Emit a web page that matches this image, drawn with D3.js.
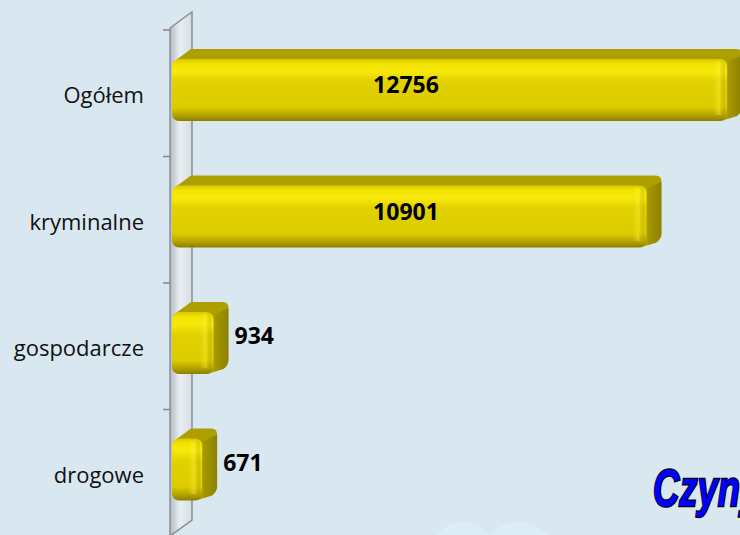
<!DOCTYPE html>
<html>
<head>
<meta charset="utf-8">
<script src="https://cdn.jsdelivr.net/npm/d3@7"></script>
<style>
  html, body { margin: 0; padding: 0; background: #d9e8f0; }
  svg { display: block; }
</style>
</head>
<body>
<div id="chart"></div>
<script>
const categories = ["Ogółem", "kryminalne", "gospodarcze", "drogowe"];
const values = [12756, 10901, 934, 671];
const xMax = 14000;
const title = "Czyny stwierdzone";

let width = 740,
    height = 535,
    margin = ({ top: 30, left: 173 }),
    depth = ({ dx: 15, dy: -10 }),
    wallDepth = ({ dx: 22, dy: -16 }),
    plotRight = 640;

const svg = d3.select("#chart")
  .append("svg")
  .attr("width", width)
  .attr("height", height)
  .attr("viewBox", [0, 0, width, height]);

const defs = svg.append("defs");

let front = defs.append("linearGradient")
  .attr("id", "front").attr("x1", 0).attr("x2", 0).attr("y1", 0).attr("y2", 1);
[[0, "#d8c800"], [0.08, "#f3e300"], [0.2, "#f7e90c"], [0.35, "#e3d200"],
 [0.78, "#dccb00"], [0.9, "#b5a500"], [1, "#8d7f00"]]
  .forEach(s => front.append("stop").attr("offset", s[0]).attr("stop-color", s[1]));

let side = defs.append("linearGradient")
  .attr("id", "side").attr("x1", 0).attr("x2", 1).attr("y1", 0).attr("y2", 0);
[[0, "#c8b800"], [0.4, "#a39500"], [1, "#8e8100"]]
  .forEach(s => side.append("stop").attr("offset", s[0]).attr("stop-color", s[1]));

let endShade = defs.append("linearGradient")
  .attr("id", "endShade").attr("x1", 0).attr("x2", 1).attr("y1", 0).attr("y2", 0);
[[0, "rgba(255,250,60,0)"], [0.5, "rgba(255,250,60,0.35)"], [1, "rgba(120,100,0,0.15)"]]
  .forEach(s => endShade.append("stop").attr("offset", s[0]).attr("stop-color", s[1]));

let wallGrad = defs.append("linearGradient")
  .attr("id", "wall").attr("x1", 0).attr("x2", 1).attr("y1", 0).attr("y2", 0);
[[0, "#b3bbc2"], [0.45, "#e9eef1"], [1, "#d6dde2"]]
  .forEach(s => wallGrad.append("stop").attr("offset", s[0]).attr("stop-color", s[1]));

// faint background shapes
svg.append("circle").attr("cx", 463).attr("cy", 555).attr("r", 33).attr("fill", "#dbedf5");
svg.append("circle").attr("cx", 519).attr("cy", 560).attr("r", 38).attr("fill", "#dbedf5");

let y = d3.scaleBand()
  .domain(categories)
  .range([margin.top, 536]);

let x = d3.scaleLinear()
  .domain([0, xMax])
  .range([margin.left, margin.left + xMax * 0.04344]);

// side wall
let wx = 170, wTop = y.range()[0] - 2, wBot = y.range()[1];
svg.append("path")
  .attr("d", `M${wx},${wTop} L${wx + wallDepth.dx},${wTop + wallDepth.dy} L${wx + wallDepth.dx},${wBot + wallDepth.dy} L${wx},${wBot} Z`)
  .attr("fill", "url(#wall)")
  .attr("stroke", "#8c8f92")
  .attr("stroke-width", 1.5);

// ticks
let ticks = categories.map(c => y(c)).concat([y.range()[1]]);
svg.append("g")
  .selectAll("line")
  .data(ticks)
  .join("line")
  .attr("x1", wx - 7).attr("x2", wx)
  .attr("y1", d => d).attr("y2", d => d)
  .attr("stroke", "#858585")
  .attr("stroke-width", 1.5);

// category labels
svg.append("g")
  .selectAll("text")
  .data(categories)
  .join("text")
  .attr("x", 144)
  .attr("y", d => y(d) + y.bandwidth() / 2 + 4)
  .attr("text-anchor", "end")
  .attr("dominant-baseline", "middle")
  .attr("font-family", "Open Sans, sans-serif")
  .attr("font-size", 22)
  .attr("fill", "#111")
  .text(d => d);

// bars
const barOffset = 29, barH = 62;

categories.forEach((c, i) => {
  let v = values[i];
  let x0 = x(0) - 1, x1 = x(v);
  let top = y(c) + barOffset, bot = top + barH;
  let g = svg.append("g");

  g.append("path")
    .attr("d", `M${x0 + 4},${top + 1} L${x0 + 4 + depth.dx},${top + depth.dy} L${x1 + depth.dx - 6},${top + depth.dy} Q${x1 + depth.dx},${top + depth.dy} ${x1 + depth.dx},${top + depth.dy + 6} L${x1},${top + 6} Z`)
    .attr("fill", "#ad9f00");

  g.append("path")
    .attr("d", `M${x1 - 2},${top + 4} L${x1 + depth.dx},${top + depth.dy + 6} L${x1 + depth.dx},${bot + depth.dy - 4} Q${x1 + depth.dx},${bot + depth.dy + 1} ${x1 + depth.dx - 5},${bot - 5} L${x1 - 6},${bot} Z`)
    .attr("fill", "url(#side)");

  g.append("rect")
    .attr("x", x0).attr("y", top)
    .attr("width", x1 - x0).attr("height", barH)
    .attr("rx", 7)
    .attr("fill", "url(#front)");

  g.append("rect")
    .attr("x", x1 - 14).attr("y", top + 2)
    .attr("width", 12).attr("height", barH - 8)
    .attr("rx", 4)
    .attr("fill", "url(#endShade)");

  let inside = x1 - x0 > 100;
  g.append("text")
    .attr("x", inside ? (x0 + Math.min(x1, plotRight)) / 2 : x1 + depth.dx + 6)
    .attr("y", top + barH / 2 + (inside ? -3 : -5))
    .attr("text-anchor", inside ? "middle" : "start")
    .attr("dominant-baseline", "middle")
    .attr("font-family", "Open Sans, sans-serif")
    .attr("font-weight", "bold")
    .attr("font-size", 23)
    .attr("fill", "#000")
    .text(v);
});

// title, cut off at the right edge as in the source
svg.append("text")
  .attr("transform", "translate(653,506) scale(0.7,1)")
  .attr("font-family", "Liberation Sans Narrow, Liberation Sans, sans-serif")
  .attr("font-weight", "bold")
  .attr("font-style", "italic")
  .attr("font-size", 52)
  .attr("fill", "#0000ff")
  .attr("stroke", "#000")
  .attr("stroke-width", 2.5)
  .attr("paint-order", "stroke")
  .text(title);
</script>
</body>
</html>
